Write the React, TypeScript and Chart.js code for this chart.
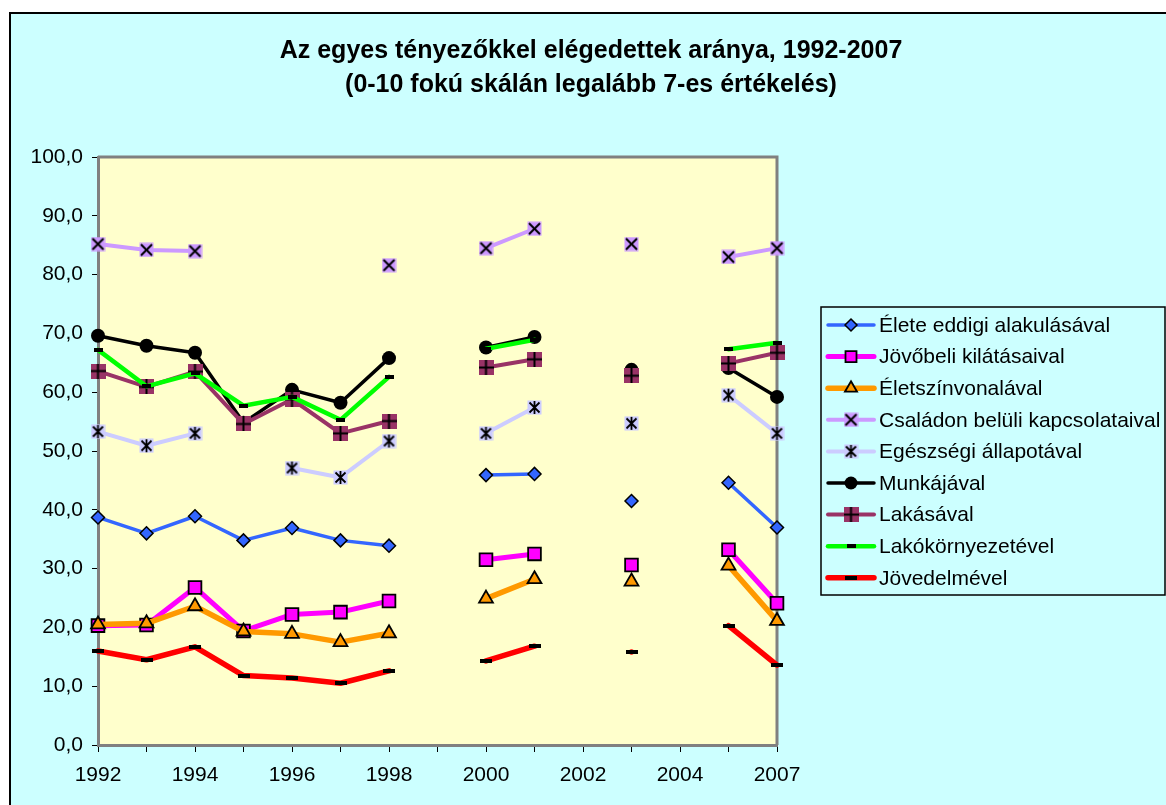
import React, { useEffect, useRef } from 'react';
import { Chart, registerables } from 'chart.js';

Chart.register(...registerables);

const FONT = "'Liberation Sans', Arial, sans-serif";

const years = ['1992', '1993', '1994', '1995', '1996', '1997', '1998', '1999', '2000', '2001', '2002', '2003', '2004', '2006', '2007'];

const titleLines = ['Az egyes tényezőkkel elégedettek aránya, 1992-2007', '(0-10 fokú skálán legalább 7-es értékelés)'];

const seriesNames = [
  'Élete eddigi alakulásával',
  'Jövőbeli kilátásaival',
  'Életszínvonalával',
  'Családon belüli kapcsolataival',
  'Egészségi állapotával',
  'Munkájával',
  'Lakásával',
  'Lakókörnyezetével',
  'Jövedelmével',
];

const elete = [38.7, 36.0, 38.9, 34.8, 36.9, 34.8, 33.9, null, 45.9, 46.1, null, 41.5, null, 44.6, 37.0];
const jovobeli = [20.3, 20.4, 26.8, 19.4, 22.2, 22.6, 24.5, null, 31.5, 32.5, null, 30.6, null, 33.2, 24.1];
const eletszinvonal = [20.5, 20.7, 23.6, 19.3, 18.9, 17.5, 19.0, null, 24.9, 28.2, null, 27.8, null, 30.5, 21.1];
const csalad = [85.2, 84.2, 84.0, null, null, null, 81.6, null, 84.5, 87.8, null, 85.2, null, 83.0, 84.5];
const egeszseg = [53.3, 50.9, 53.0, null, 47.1, 45.5, 51.7, null, 53.0, 57.4, null, 54.7, null, 59.5, 53.0];
const munka = [69.6, 67.9, 66.7, 54.8, 60.4, 58.2, 65.8, null, 67.6, 69.4, null, 63.8, null, 64.1, 59.2];
const lakas = [63.6, 60.9, 63.5, 54.6, 58.8, 53.0, 55.1, null, 64.2, 65.6, null, 62.8, null, 64.9, 66.7];
const lakokornyezet = [67.2, 61.0, 63.2, 57.7, 59.2, 55.3, 62.6, null, 67.4, 68.9, null, null, null, 67.3, 68.4];
const jovedelem = [16.0, 14.5, 16.7, 11.8, 11.4, 10.5, 12.6, null, 14.3, 16.8, null, 15.8, null, 20.3, 13.6];

const seriesValues = [elete, jovobeli, eletszinvonal, csalad, egeszseg, munka, lakas, lakokornyezet, jovedelem];
const seriesColors = ['#3366FF', '#FF00FF', '#FF9900', '#CC99FF', '#CCCCFF', '#000000', '#993366', '#00FF00', '#FF0000'];
const seriesWidths = [3.5, 5, 5.5, 4, 4, 3.5, 4, 4.5, 5.5];

function makeCanvas(w: number, h: number, draw: (ctx: CanvasRenderingContext2D) => void) {
  const c = document.createElement('canvas');
  c.width = w;
  c.height = h;
  const ctx = c.getContext('2d') as CanvasRenderingContext2D;
  draw(ctx);
  return c;
}

function buildMarkers() {
  const cross = makeCanvas(15, 15, (ctx) => {
    ctx.fillStyle = '#CC99FF';
    ctx.fillRect(0.5, 0.5, 14, 14);
    ctx.strokeStyle = '#000';
    ctx.lineWidth = 2;
    ctx.beginPath();
    ctx.moveTo(2, 2); ctx.lineTo(13, 13);
    ctx.moveTo(13, 2); ctx.lineTo(2, 13);
    ctx.stroke();
  });
  const star = makeCanvas(15, 15, (ctx) => {
    ctx.fillStyle = '#CCCCFF';
    ctx.fillRect(0.5, 0.5, 14, 14);
    ctx.strokeStyle = '#000';
    ctx.lineWidth = 1.8;
    ctx.beginPath();
    ctx.moveTo(2.5, 2.5); ctx.lineTo(12.5, 12.5);
    ctx.moveTo(12.5, 2.5); ctx.lineTo(2.5, 12.5);
    ctx.moveTo(7.5, 1); ctx.lineTo(7.5, 14);
    ctx.stroke();
  });
  const plus = makeCanvas(15, 15, (ctx) => {
    ctx.fillStyle = '#993366';
    ctx.fillRect(0, 0, 15, 15);
    ctx.fillStyle = '#000';
    ctx.fillRect(6.5, 0, 2, 15);
    ctx.fillRect(0, 6.5, 15, 2);
  });
  const dashGreen = makeCanvas(9, 4, (ctx) => {
    ctx.fillStyle = '#000';
    ctx.fillRect(0, 0, 9, 4);
  });
  const dashRed = makeCanvas(12, 4, (ctx) => {
    ctx.fillStyle = '#000';
    ctx.fillRect(0, 0, 12, 4);
  });
  return { cross, star, plus, dashGreen, dashRed };
}

export default function App() {
  const ref = useRef<HTMLCanvasElement | null>(null);

  useEffect(() => {
    document.body.style.margin = '0';
    const canvas = ref.current;
    if (!canvas) return;
    const m = buildMarkers();
    const styles: any[] = [
      { pointStyle: 'rectRot', radius: 6.5, bg: '#3366FF', bw: 1.5 },
      { pointStyle: 'rect', radius: 9, bg: '#FF00FF', bw: 1.8 },
      { pointStyle: 'triangle', radius: 8, bg: '#FF9900', bw: 1.8 },
      { pointStyle: m.cross, radius: 7, bg: '#CC99FF', bw: 0 },
      { pointStyle: m.star, radius: 7, bg: '#CCCCFF', bw: 0 },
      { pointStyle: 'circle', radius: 7, bg: '#000000', bw: 0 },
      { pointStyle: m.plus, radius: 7, bg: '#993366', bw: 0 },
      { pointStyle: m.dashGreen, radius: 5, bg: '#000', bw: 0 },
      { pointStyle: m.dashRed, radius: 6, bg: '#000', bw: 0 },
    ];

    const datasets = seriesNames.map((name, i) => ({
      label: name,
      data: seriesValues[i],
      borderColor: seriesColors[i],
      borderWidth: seriesWidths[i],
      backgroundColor: styles[i].bg,
      pointStyle: styles[i].pointStyle,
      pointRadius: styles[i].radius,
      pointBackgroundColor: styles[i].bg,
      pointBorderColor: '#000',
      pointBorderWidth: styles[i].bw,
      tension: 0,
      spanGaps: false,
      clip: false as any,
      order: seriesNames.length - 1 - i,
    }));

    const bgPlugin = {
      id: 'bgPlugin',
      beforeDraw(chart: any) {
        const { ctx, chartArea } = chart;
        ctx.save();
        ctx.fillStyle = '#FFFFFF';
        ctx.fillRect(0, 0, chart.width, chart.height);
        ctx.fillStyle = '#CCFFFF';
        ctx.fillRect(10, 13, chart.width - 10, chart.height - 13);
        ctx.strokeStyle = '#000';
        ctx.lineWidth = 2;
        ctx.strokeRect(10, 13, chart.width + 10, chart.height + 10);
        ctx.fillStyle = '#FFFFCC';
        ctx.fillRect(chartArea.left, chartArea.top, chartArea.right - chartArea.left, chartArea.bottom - chartArea.top);
        // title
        ctx.fillStyle = '#000';
        ctx.font = `bold 25px ${FONT}`;
        ctx.textAlign = 'center';
        ctx.textBaseline = 'middle';
        ctx.fillText(titleLines[0], 591, 51);
        ctx.fillText(titleLines[1], 591, 85);
        ctx.restore();
      },
      beforeDatasetsDraw(chart: any) {
        const { ctx, chartArea } = chart;
        ctx.save();
        ctx.strokeStyle = '#808080';
        ctx.lineWidth = 3;
        ctx.beginPath();
        ctx.moveTo(chartArea.left, chartArea.top);
        ctx.lineTo(chartArea.right, chartArea.top);
        ctx.lineTo(chartArea.right, chartArea.bottom);
        ctx.stroke();
        ctx.restore();
      },
      afterDraw(chart: any) {
        const { ctx } = chart;
        ctx.save();
        const left = 821, top = 307, right = 1165, bottom = 595;
        ctx.strokeStyle = '#000';
        ctx.lineWidth = 1.5;
        ctx.strokeRect(left, top, right - left, bottom - top);
        ctx.font = `21px ${FONT}`;
        ctx.textBaseline = 'middle';
        ctx.textAlign = 'left';
        const n = seriesNames.length;
        for (let i = 0; i < n; i++) {
          const y = 325 + i * 31.6;
          ctx.strokeStyle = seriesColors[i];
          ctx.lineWidth = seriesWidths[i];
          ctx.lineCap = 'round';
          ctx.beginPath();
          ctx.moveTo(828, y);
          ctx.lineTo(874, y);
          ctx.stroke();
          const st = styles[i];
          const x = 851;
          if (typeof st.pointStyle !== 'string') {
            const img = st.pointStyle as HTMLCanvasElement;
            ctx.drawImage(img, x - img.width / 2, y - img.height / 2);
          } else {
            ctx.fillStyle = st.bg;
            ctx.strokeStyle = '#000';
            ctx.lineWidth = st.bw;
            ctx.beginPath();
            if (st.pointStyle === 'rectRot') {
              const r = 6;
              ctx.moveTo(x, y - r); ctx.lineTo(x + r, y); ctx.lineTo(x, y + r); ctx.lineTo(x - r, y); ctx.closePath();
            } else if (st.pointStyle === 'rect') {
              ctx.rect(x - 5.5, y - 5.5, 11, 11);
            } else if (st.pointStyle === 'triangle') {
              const r = 7;
              ctx.moveTo(x, y - r); ctx.lineTo(x + r * 0.866, y + r * 0.5); ctx.lineTo(x - r * 0.866, y + r * 0.5); ctx.closePath();
            } else if (st.pointStyle === 'circle') {
              ctx.arc(x, y, 6.5, 0, Math.PI * 2);
            }
            ctx.fill();
            if (st.bw > 0) ctx.stroke();
          }
          ctx.fillStyle = '#000';
          ctx.fillText(seriesNames[i], 879, y + 1);
        }
        ctx.restore();
      },
    };

    const chart = new Chart(canvas, {
      type: 'line',
      data: { labels: years, datasets: datasets as any },
      options: {
        responsive: false,
        animation: false,
        devicePixelRatio: 1,
        layout: { padding: { left: 10, top: 157, right: 389, bottom: 0 } },
        plugins: {
          legend: { display: false },
          title: { display: false },
          tooltip: { enabled: false },
        },
        elements: { line: { borderJoinStyle: 'round', borderCapStyle: 'round' } },
        scales: {
          x: {
            type: 'category',
            offset: false,
            grid: { display: true, drawOnChartArea: false, drawTicks: true, tickLength: 7, color: '#000', lineWidth: 1, offset: false },
            border: { display: true, color: '#808080', width: 3 },
            ticks: {
              autoSkip: false,
              maxRotation: 0,
              minRotation: 0,
              padding: 11,
              color: '#000',
              font: { family: FONT, size: 21 },
              callback: (_v: any, idx: number) => (idx % 2 === 0 ? years[idx] : ''),
            },
            afterFit: (scale: any) => { scale.height = 60; },
          },
          y: {
            min: 0,
            max: 100,
            grid: { display: true, drawOnChartArea: false, drawTicks: true, tickLength: 6, color: '#000', lineWidth: 1 },
            border: { display: true, color: '#808080', width: 3 },
            ticks: {
              stepSize: 10,
              padding: 9,
              color: '#000',
              font: { family: FONT, size: 21 },
              callback: (v: any) => Number(v).toFixed(1).replace('.', ','),
            },
            afterFit: (scale: any) => { scale.width = 88; },
          },
        },
      },
      plugins: [bgPlugin],
    });

    return () => chart.destroy();
  }, []);

  return (
    <div style={{ width: 1166, height: 805 }}>
      <canvas ref={ref} width={1166} height={805} style={{ display: 'block' }} />
    </div>
  );
}
